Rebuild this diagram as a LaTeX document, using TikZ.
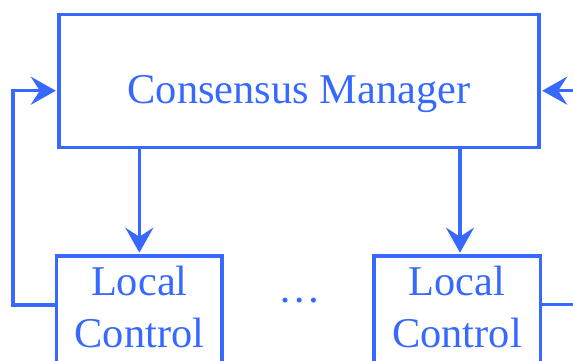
\documentclass[tikz,border=0pt]{standalone}
\usepackage{fontspec}
\setmainfont{Liberation Serif}
\usetikzlibrary{arrows.meta,positioning}
\definecolor{ctrlblue}{RGB}{55,105,255}

\begin{document}
\begin{tikzpicture}[>={Stealth[length=12.5pt,width=14pt,inset=4.5pt]},
    x=0.5pt,y=-0.5pt,
    block/.style={draw=ctrlblue,line width=1.7pt,inner xsep=0pt,
      text=ctrlblue,font=\fontsize{21.2pt}{26pt}\selectfont},
    link/.style={draw=ctrlblue,line width=1.7pt,->,shorten >=0.75pt}]
  % Configurable parameters
  \def\fbdrop{5pt}        % Feedback arrows enter below the centre line
  \def\fbleft{20.85pt}    % Distance of the left feedback line from its box
  \def\fbright{25pt}      % Distance of the right feedback line from its box
  %
  % Frame
  \useasboundingbox (0,0) rectangle (573,360);
  \clip (0,0) rectangle (573,360);
  %
  % Manager block
  \node[block,anchor=base,inner ysep=0pt,minimum width=240pt,
    text height=44.4pt,text depth=22.1pt] (mgr) at (299,103)
    {Consensus Manager};
  %
  % Local controllers (run past the bottom edge)
  \node[block,anchor=north,align=center,inner ysep=5pt,minimum width=82.8pt,
    text depth=40pt] (loc1) at (139.35,254.2) {Local\\Control};
  \node[block,anchor=north,align=center,inner ysep=5pt,minimum width=83.2pt,
    text depth=40pt] (loc2) at (457,254.2) {Local\\Control};
  \node[text=ctrlblue,font=\fontsize{21.2pt}{26pt}\selectfont,inner sep=0pt]
    (dots) at (299.3,301) {\dots};
  %
  % Commands going down
  \draw[link] (loc1.north |- mgr.south) -- (loc1.north);
  \draw[link] ([xshift=1.5pt]loc2.north |- mgr.south) -- ([xshift=1.5pt]loc2.north);
  %
  % Feedback paths
  \coordinate (fbL) at ([yshift=-25.3pt]loc1.north west);
  \coordinate (fbR) at ([yshift=-25.15pt]loc2.north east);
  \draw[link] (fbL) -- ++(-\fbleft,0) |- ([yshift=-\fbdrop]mgr.west);
  \draw[link] (fbR) -- ++(\fbright,0) |- ([yshift=-\fbdrop]mgr.east);
  %
\end{tikzpicture}
\end{document}
